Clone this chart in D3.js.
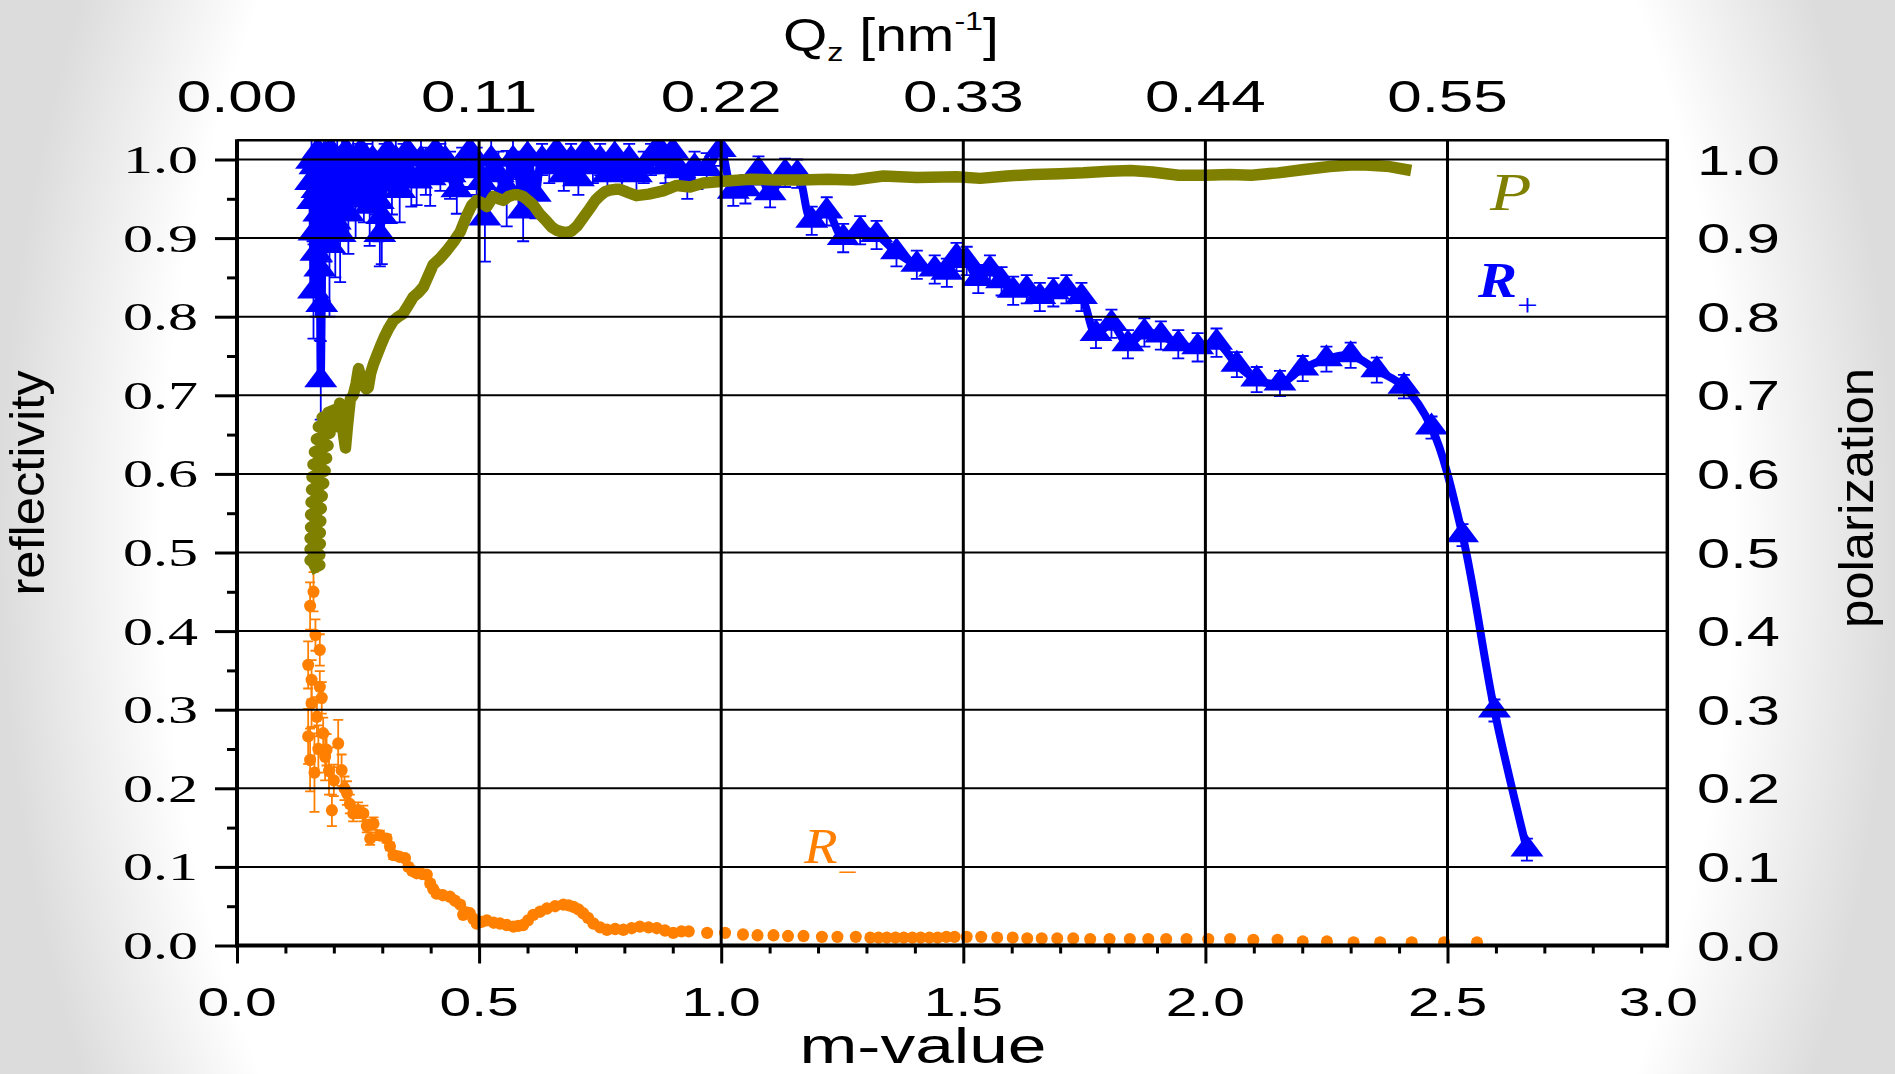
<!DOCTYPE html>
<html><head><meta charset="utf-8">
<script src="https://cdn.jsdelivr.net/npm/d3@7"></script>
<style>html,body{margin:0;padding:0;overflow:hidden;background:#fff}svg{display:block}</style>
</head><body><svg id="c" width="1895" height="1074"></svg>
<script>
// ---------------- DATA ----------------
const mTickValues = [0.0, 0.5, 1.0, 1.5, 2.0, 2.5, 3.0];
const mTickLabels = ["0.0", "0.5", "1.0", "1.5", "2.0", "2.5", "3.0"];
const qTickValues = [0.00, 0.11, 0.22, 0.33, 0.44, 0.55];
const qTickLabels = ["0.00", "0.11", "0.22", "0.33", "0.44", "0.55"];
const yTickValues = [0.0, 0.1, 0.2, 0.3, 0.4, 0.5, 0.6, 0.7, 0.8, 0.9, 1.0];
const yTickLabels = ["0.0", "0.1", "0.2", "0.3", "0.4", "0.5", "0.6", "0.7", "0.8", "0.9", "1.0"];

// R+ (blue triangles): m-value, reflectivity, error
const rPlusM = [0.152,0.154,0.156,0.158,0.159,0.161,0.163,0.165,0.167,0.169,0.171,0.173,0.175,0.177,0.179,0.181,0.183,0.185,0.188,0.191,0.194,0.197,0.200,0.203,0.207,0.210,0.213,0.217,0.220,0.225,0.230,0.235,0.240,0.245,0.250,0.256,0.262,0.268,0.274,0.280,0.286,0.292,0.295,0.299,0.305,0.312,0.320,0.328,0.336,0.344,0.352,0.360,0.371,0.380,0.390,0.399,0.410,0.420,0.430,0.440,0.454,0.465,0.481,0.495,0.505,0.512,0.525,0.540,0.557,0.570,0.580,0.591,0.600,0.616,0.630,0.645,0.660,0.675,0.690,0.705,0.720,0.735,0.750,0.765,0.780,0.795,0.810,0.825,0.840,0.855,0.870,0.885,0.900,0.915,0.930,0.945,0.970,0.998,1.025,1.050,1.077,1.101,1.132,1.157,1.187,1.218,1.252,1.287,1.321,1.362,1.404,1.441,1.466,1.486,1.507,1.531,1.555,1.579,1.603,1.631,1.658,1.686,1.713,1.744,1.774,1.806,1.840,1.874,1.908,1.944,1.984,2.023,2.065,2.106,2.154,2.201,2.250,2.300,2.354,2.410,2.467,2.531,2.597,2.664];
const rPlusV = [0.970,0.997,0.946,0.832,0.906,0.990,0.880,0.960,1.010,0.930,0.860,0.719,0.815,0.950,0.995,0.900,1.005,0.940,0.975,0.890,1.010,0.950,0.985,0.920,1.000,0.960,0.904,0.990,0.950,1.010,0.930,0.970,1.000,0.950,0.980,1.010,0.960,0.990,0.940,1.000,0.970,0.946,0.904,0.927,0.990,1.010,0.970,1.000,0.960,0.990,1.010,0.975,0.972,1.000,0.985,0.976,1.010,0.990,1.000,0.980,0.961,0.990,1.010,0.985,0.970,0.925,1.000,0.980,0.963,1.000,0.985,0.934,1.005,0.955,1.000,0.990,1.010,0.980,1.000,0.975,1.010,0.990,1.000,0.980,1.005,0.985,1.000,0.980,0.990,1.000,1.015,0.990,1.010,0.985,0.970,0.990,0.988,1.012,0.959,0.962,0.986,0.957,0.983,0.982,0.922,0.934,0.900,0.910,0.904,0.882,0.866,0.860,0.856,0.876,0.871,0.848,0.860,0.845,0.833,0.835,0.825,0.831,0.835,0.825,0.778,0.791,0.765,0.780,0.776,0.765,0.761,0.767,0.739,0.720,0.715,0.734,0.746,0.751,0.732,0.711,0.659,0.522,0.299,0.122];
const rPlusErr = [0.03,0.03,0.05,0.06,0.05,0.04,0.08,0.05,0.03,0.06,0.09,0.05,0.10,0.06,0.04,0.08,0.03,0.07,0.05,0.09,0.04,0.06,0.05,0.07,0.04,0.05,0.06,0.04,0.05,0.03,0.05,0.04,0.03,0.05,0.04,0.03,0.04,0.03,0.05,0.03,0.04,0.05,0.04,0.06,0.03,0.03,0.04,0.03,0.04,0.03,0.03,0.035,0.03,0.03,0.03,0.035,0.03,0.03,0.025,0.03,0.03,0.025,0.025,0.03,0.03,0.055,0.025,0.03,0.048,0.025,0.025,0.038,0.025,0.03,0.02,0.02,0.02,0.02,0.02,0.02,0.02,0.02,0.02,0.02,0.02,0.02,0.02,0.02,0.02,0.02,0.02,0.02,0.02,0.02,0.02,0.02,0.02,0.02,0.018,0.018,0.018,0.018,0.018,0.018,0.018,0.018,0.018,0.018,0.018,0.018,0.018,0.018,0.018,0.018,0.018,0.018,0.018,0.018,0.018,0.018,0.018,0.018,0.018,0.018,0.018,0.018,0.018,0.018,0.018,0.018,0.018,0.018,0.016,0.016,0.016,0.016,0.016,0.016,0.016,0.015,0.014,0.014,0.014,0.014];

// R- (orange circles)
const rMinusM = [0.147,0.147,0.151,0.151,0.154,0.154,0.158,0.160,0.162,0.165,0.168,0.171,0.171,0.175,0.178,0.182,0.185,0.190,0.196,0.200,0.209,0.216,0.222,0.227,0.233,0.240,0.250,0.261,0.268,0.275,0.282,0.295,0.309,0.316,0.323,0.335,0.347,0.354,0.362,0.371,0.382,0.392,0.399,0.405,0.412,0.425,0.440,0.450,0.461,0.467,0.474,0.481,0.488,0.495,0.505,0.516,0.530,0.543,0.557,0.571,0.581,0.591,0.601,0.612,0.626,0.640,0.657,0.674,0.685,0.695,0.705,0.715,0.725,0.736,0.750,0.764,0.781,0.798,0.815,0.832,0.850,0.867,0.884,0.901,0.918,0.933,0.971,1.008,1.045,1.075,1.108,1.138,1.170,1.208,1.240,1.278,1.308,1.325,1.342,1.360,1.377,1.395,1.412,1.430,1.447,1.465,1.482,1.507,1.537,1.570,1.602,1.632,1.662,1.694,1.727,1.762,1.802,1.844,1.882,1.919,1.961,2.006,2.051,2.099,2.149,2.201,2.251,2.306,2.361,2.426,2.493,2.561];
const rMinusV = [0.266,0.357,0.432,0.236,0.338,0.308,0.450,0.220,0.395,0.291,0.250,0.376,0.329,0.315,0.270,0.240,0.249,0.222,0.172,0.210,0.257,0.223,0.200,0.194,0.180,0.168,0.172,0.168,0.152,0.136,0.155,0.140,0.136,0.126,0.115,0.113,0.111,0.100,0.095,0.092,0.091,0.090,0.079,0.072,0.066,0.064,0.062,0.057,0.052,0.039,0.042,0.041,0.034,0.028,0.030,0.032,0.029,0.028,0.026,0.024,0.025,0.026,0.032,0.039,0.043,0.047,0.050,0.052,0.051,0.049,0.046,0.041,0.035,0.028,0.023,0.020,0.021,0.020,0.022,0.024,0.023,0.022,0.019,0.016,0.018,0.018,0.016,0.016,0.014,0.013,0.013,0.012,0.012,0.011,0.011,0.011,0.010,0.010,0.010,0.010,0.010,0.010,0.010,0.010,0.010,0.011,0.011,0.011,0.011,0.010,0.010,0.009,0.009,0.009,0.009,0.008,0.008,0.008,0.008,0.008,0.008,0.008,0.008,0.007,0.007,0.005,0.005,0.004,0.004,0.004,0.004,0.004];
const rMinusErr = [0.035,0.030,0.030,0.040,0.025,0.030,0.025,0.050,0.020,0.025,0.030,0.020,0.020,0.020,0.020,0.030,0.020,0.030,0.020,0.020,0.030,0.020,0.015,0.015,0.012,0.010,0.010,0.010,0.008,0.008,0.008,0.006,0.005,0.005,0.005,0.004,0.004,0.004,0.004,0.004,0.004,0.004,0.004,0.003,0.003,0.003,0.003,0.003,0.003,0.003,0.003,0.003,0.003,0.003,0.003,0.003,0.003,0.003,0.003,0.003,0.003,0.003,0.003,0.003,0.003,0.003,0.003,0.003,0.003,0.003,0.003,0.003,0.003,0.003,0.003,0.003,0.003,0.003,0.003,0.003,0.003,0.003,0.003,0.003,0.003,0.003,0.003,0.003,0.003,0.003,0.003,0.003,0.003,0.003,0.003,0.003,0.003,0.003,0.003,0.003,0.003,0.003,0.003,0.003,0.003,0.003,0.003,0.003,0.003,0.003,0.003,0.003,0.003,0.003,0.003,0.003,0.003,0.003,0.003,0.003,0.003,0.003,0.003,0.003,0.003,0.004,0.004,0.004,0.004,0.004,0.004,0.004];

// P (olive line): polarization
const polM = [0.151,0.171,0.151,0.171,0.151,0.172,0.151,0.172,0.152,0.173,0.152,0.174,0.153,0.176,0.154,0.179,0.155,0.182,0.157,0.185,0.160,0.188,0.164,0.192,0.168,0.196,0.176,0.200,0.188,0.204,0.208,0.212,0.216,0.220,0.224,0.228,0.234,0.240,0.246,0.251,0.256,0.262,0.267,0.271,0.276,0.282,0.289,0.296,0.305,0.314,0.323,0.333,0.343,0.354,0.364,0.375,0.385,0.395,0.405,0.419,0.433,0.447,0.461,0.474,0.485,0.495,0.505,0.516,0.529,0.540,0.550,0.561,0.571,0.581,0.591,0.601,0.612,0.626,0.640,0.650,0.660,0.670,0.681,0.691,0.702,0.715,0.729,0.740,0.750,0.760,0.770,0.781,0.791,0.808,0.825,0.850,0.880,0.908,0.936,0.963,0.998,1.060,1.110,1.163,1.220,1.273,1.335,1.404,1.486,1.535,1.590,1.645,1.700,1.748,1.800,1.846,1.890,1.945,2.000,2.050,2.095,2.150,2.200,2.257,2.300,2.331,2.380,2.425];
const polV = [0.478,0.484,0.490,0.497,0.504,0.511,0.518,0.525,0.532,0.540,0.548,0.556,0.564,0.572,0.580,0.588,0.596,0.604,0.612,0.620,0.628,0.636,0.644,0.652,0.660,0.668,0.672,0.662,0.678,0.682,0.660,0.690,0.672,0.650,0.633,0.660,0.695,0.700,0.715,0.734,0.722,0.712,0.708,0.710,0.728,0.740,0.751,0.762,0.775,0.786,0.795,0.800,0.804,0.815,0.825,0.831,0.838,0.852,0.866,0.874,0.884,0.895,0.908,0.928,0.942,0.948,0.945,0.940,0.953,0.950,0.948,0.953,0.955,0.955,0.953,0.948,0.942,0.930,0.921,0.914,0.910,0.908,0.907,0.909,0.915,0.926,0.938,0.948,0.954,0.959,0.961,0.962,0.962,0.958,0.954,0.956,0.960,0.967,0.965,0.970,0.972,0.975,0.974,0.974,0.975,0.974,0.979,0.977,0.978,0.976,0.979,0.981,0.982,0.983,0.985,0.986,0.984,0.980,0.980,0.981,0.980,0.983,0.987,0.991,0.993,0.993,0.991,0.986];

// ---------------- DRAWING ----------------
const W = 1895, H = 1074;
const svg = d3.select("#c");
const defs = svg.append("defs");
const SANS = "'Liberation Sans', Arial, Helvetica, sans-serif";
const SERIF = "'Liberation Serif', 'Times New Roman', serif";
const BLUE = "#0000ff", ORANGE = "#ff8000", OLIVE = "#808000";

// slide background
const g0 = defs.append("radialGradient").attr("id", "bg")
  .attr("gradientUnits", "userSpaceOnUse")
  .attr("cx", W / 2).attr("cy", H / 2).attr("r", W / 2)
  .attr("gradientTransform", `translate(0,${H / 2}) scale(1,1.4) translate(0,${-H / 2})`);
[[0, "#ffffff"], [0.83, "#ffffff"], [1, "#dcdcdc"]].forEach(s =>
  g0.append("stop").attr("offset", s[0]).attr("stop-color", s[1]));
svg.append("rect").attr("width", W).attr("height", H).attr("fill", "url(#bg)");

// scales
const x = d3.scaleLinear().domain([0, 3]).range([237, 237 + 3 * 484.2]);
const xq = d3.scaleLinear().domain([0, 0.66]).range(x.range());
const y = d3.scaleLinear().domain([0, 1]).range([945.5, 159.5]);
const mFrameMax = 2.954, yFrameMax = 1.0245;
const L = x(0), R = x(mFrameMax), T = y(yFrameMax), B = y(0);

defs.append("clipPath").attr("id", "plotclip").append("rect")
  .attr("x", L).attr("y", T).attr("width", R - L).attr("height", B - T);

const data = svg.append("g").attr("clip-path", "url(#plotclip)");

// R+ series
const rPlus = rPlusM.map((m, i) => ({ m, v: rPlusV[i], e: rPlusErr[i] }));
data.append("g").selectAll("path").data(rPlus).join("path")
  .attr("d", d => {
    const cx = x(d.m), y1 = y(d.v - d.e), y2 = y(d.v + d.e);
    return `M${cx},${y1}V${y2}M${cx - 6},${y1}h12M${cx - 6},${y2}h12`;
  })
  .attr("stroke", BLUE).attr("stroke-width", 1.8).attr("fill", "none");
data.append("path").datum(rPlus)
  .attr("d", d3.line().x(d => x(d.m)).y(d => y(d.v)).curve(d3.curveCatmullRom.alpha(0.5)))
  .attr("fill", "none").attr("stroke", BLUE).attr("stroke-width", 8).attr("stroke-linejoin", "round");
data.append("g").selectAll("path").data(rPlus).join("path")
  .attr("d", d => {
    const cx = x(d.m), cy = y(d.v);
    return `M${cx},${cy - 15}L${cx + 16.5},${cy + 7}L${cx - 16.5},${cy + 7}Z`;
  })
  .attr("fill", BLUE);

// R- series
const rMinus = rMinusM.map((m, i) => ({ m, v: rMinusV[i], e: rMinusErr[i] }));
data.append("g").selectAll("path").data(rMinus).join("path")
  .attr("d", d => {
    const cx = x(d.m), y1 = y(d.v - d.e), y2 = y(d.v + d.e);
    return `M${cx},${y1}V${y2}M${cx - 5},${y1}h10M${cx - 5},${y2}h10`;
  })
  .attr("stroke", ORANGE).attr("stroke-width", 1.8).attr("fill", "none");
data.append("g").selectAll("ellipse").data(rMinus).join("ellipse")
  .attr("cx", d => x(d.m)).attr("cy", d => y(d.v)).attr("rx", 6).attr("ry", 6.2)
  .attr("fill", ORANGE);

// P series
const pol = polM.map((m, i) => ({ m, v: polV[i] }));
data.append("path").datum(pol)
  .attr("d", d3.line().x(d => x(d.m)).y(d => y(d.v)))
  .attr("fill", "none").attr("stroke", OLIVE).attr("stroke-width", 11.5)
  .attr("stroke-linejoin", "round").attr("stroke-linecap", "butt");

// gridlines (drawn over data as in the original)
const grid = svg.append("g").attr("stroke", "#000");
grid.selectAll("line.h").data(yTickValues.filter(v => v > 0)).join("line").attr("class", "h")
  .attr("x1", L).attr("x2", R).attr("y1", d => y(d)).attr("y2", d => y(d)).attr("stroke-width", 2);
grid.selectAll("line.v").data(mTickValues.filter(v => v > 0 && v < mFrameMax)).join("line").attr("class", "v")
  .attr("y1", T).attr("y2", B).attr("x1", d => x(d)).attr("x2", d => x(d)).attr("stroke-width", 3);

// axes ticks
const yMinor = d3.range(0.05, 1.0, 0.1);
const mMinor = d3.range(1, 30).map(i => i / 10).filter(v => Math.abs(v * 2 - Math.round(v * 2)) > 1e-6);
function styleAxis(g) {
  g.select(".domain").remove();
  g.selectAll("line").attr("stroke", "#000").attr("stroke-width", 3);
}
svg.append("g").attr("transform", `translate(${L},0)`)
  .call(d3.axisLeft(y).tickValues(yTickValues).tickSize(22).tickFormat("")).call(styleAxis);
svg.append("g").attr("transform", `translate(${L},0)`)
  .call(d3.axisLeft(y).tickValues(yMinor).tickSize(10).tickFormat("")).call(styleAxis);
svg.append("g").attr("transform", `translate(0,${B})`)
  .call(d3.axisBottom(x).tickValues(mTickValues.filter(v => v < mFrameMax)).tickSize(18).tickFormat("")).call(styleAxis);
svg.append("g").attr("transform", `translate(0,${B})`)
  .call(d3.axisBottom(x).tickValues(mMinor).tickSize(8).tickFormat("")).call(styleAxis);

// frame
const frame = svg.append("g").attr("stroke", "#000").attr("fill", "none");
frame.append("line").attr("x1", L).attr("x2", R).attr("y1", T).attr("y2", T).attr("stroke-width", 2.5);
frame.append("line").attr("x1", R).attr("x2", R).attr("y1", T - 1).attr("y2", B + 2).attr("stroke-width", 3.5);
frame.append("line").attr("x1", L - 2).attr("x2", R + 1.5).attr("y1", B).attr("y2", B).attr("stroke-width", 4);
frame.append("line").attr("x1", L).attr("x2", L).attr("y1", T - 1).attr("y2", B + 2).attr("stroke-width", 4);

// tick labels
function stretched(g, px, py, txt, font, size, sx, anchor, fill) {
  return g.append("text")
    .attr("transform", `translate(${px},${py}) scale(${sx},1)`)
    .attr("text-anchor", anchor).attr("font-family", font).attr("font-size", size)
    .attr("fill", fill || "#000").text(txt);
}
const labels = svg.append("g");
yTickValues.forEach((v, i) => {
  stretched(labels, 198, y(v) + 13.5, yTickLabels[i], SERIF, 40, 1.5, "end");
  stretched(labels, 1697, y(v) + 15, yTickLabels[i], SANS, 42, 1.42, "start");
});
qTickValues.forEach((q, i) => {
  stretched(labels, xq(q), 112, qTickLabels[i], SANS, 44, 1.41, "middle");
});
mTickValues.forEach((m, i) => {
  stretched(labels, Math.min(x(m), R - 9), 1016, mTickLabels[i], SANS, 41, 1.39, "middle");
});

// axis titles
svg.append("text").attr("x", 923).attr("y", 1063).attr("text-anchor", "middle")
  .attr("font-family", SANS).attr("font-size", 50)
  .attr("textLength", 247).attr("lengthAdjust", "spacingAndGlyphs").text("m-value");
svg.append("text").attr("transform", "translate(44,483) rotate(-90)").attr("text-anchor", "middle")
  .attr("font-family", SANS).attr("font-size", 48)
  .attr("textLength", 225).attr("lengthAdjust", "spacingAndGlyphs").text("reflectivity");
svg.append("text").attr("transform", "translate(1873,498) rotate(-90)").attr("text-anchor", "middle")
  .attr("font-family", SANS).attr("font-size", 48)
  .attr("textLength", 260).attr("lengthAdjust", "spacingAndGlyphs").text("polarization");
const qt = svg.append("text").attr("transform", "translate(783,51) scale(1.24,1)")
  .attr("font-family", SANS).attr("font-size", 46);
qt.append("tspan").text("Q");
qt.append("tspan").attr("font-size", 26).attr("dy", 10).text("z");
qt.append("tspan").attr("dy", -10).text(" [nm");
qt.append("tspan").attr("font-size", 26).attr("dy", -21).text("-1");
qt.append("tspan").attr("dy", 21).text("]");

// series labels
svg.append("text").attr("transform", "translate(1490,210) scale(1.28,1)")
  .attr("font-family", SERIF).attr("font-style", "italic").attr("font-size", 53).attr("fill", OLIVE).text("P");
const rp = svg.append("text").attr("transform", "translate(1478,297) scale(1.15,1)")
  .attr("font-family", SERIF).attr("font-size", 51).attr("fill", BLUE);
rp.append("tspan").attr("font-style", "italic").attr("font-weight", "bold").text("R");
rp.append("tspan").attr("font-size", 32).attr("dy", 19).text("+");
const rm = svg.append("text").attr("transform", "translate(804,863) scale(1.1,1)")
  .attr("font-family", SERIF).attr("font-size", 50).attr("fill", ORANGE);
rm.append("tspan").attr("font-style", "italic").text("R");
rm.append("tspan").attr("font-size", 32).attr("dy", 20).text("\u2212");
</script>
</body></html>
